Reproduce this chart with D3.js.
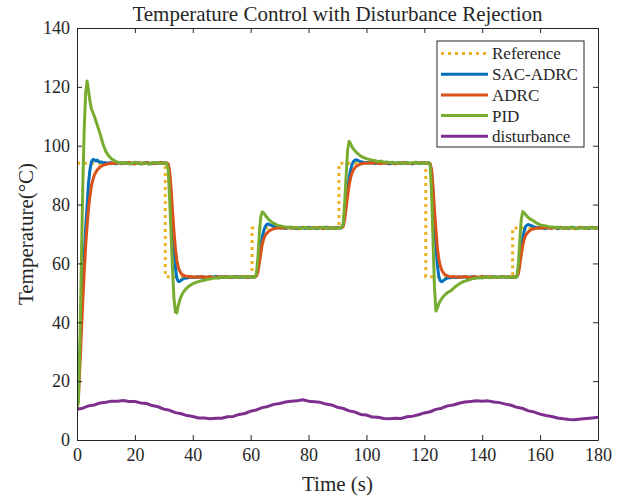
<!DOCTYPE html>
<html>
<head>
<meta charset="utf-8">
<script src="https://d3js.org/d3.v7.min.js"></script>
<style>
  body { margin: 0; background: #fff; }
  svg text { font-family: "Liberation Serif", "Times New Roman", serif; fill: #262626; }
</style>
</head>
<body>
<div id="chart"></div>
<script>
"use strict";

// ---- data ----
// sample times (s), denser around the set-point changes
var time = [
  0,0.5,1,1.5,2,2.5,3,3.5,4,4.5,5,5.5,6,6.5,7,7.5,8,8.5,9,9.5,10,10.5,11,11.5,12,12.5,13,13.5,14,14.5,15,15.5,16,
  17,18,19,20,21,22,23,24,25,26,27,28,29,30,
  30.5,31,31.5,32,32.5,33,33.5,34,34.5,35,35.5,36,36.5,37,37.5,38,38.5,39,39.5,40,
  41,42,43,44,45,46,47,48,49,50,51,52,53,54,55,56,57,58,59,60,
  60.5,61,61.5,62,62.5,63,63.5,64,64.5,65,65.5,66,66.5,67,67.5,68,68.5,69,69.5,70,
  71,72,73,74,75,76,77,78,79,80,81,82,83,84,85,86,87,88,89,90,
  90.5,91,91.5,92,92.5,93,93.5,94,94.5,95,95.5,96,96.5,97,97.5,98,98.5,99,99.5,100,
  101,102,103,104,105,106,107,108,109,110,111,112,113,114,115,116,117,118,119,120,
  120.5,121,121.5,122,122.5,123,123.5,124,124.5,125,125.5,126,126.5,127,127.5,128,128.5,129,129.5,130,
  131,132,133,134,135,136,137,138,139,140,141,142,143,144,145,146,147,148,149,150,
  150.5,151,151.5,152,152.5,153,153.5,154,154.5,155,155.5,156,156.5,157,157.5,158,158.5,159,159.5,160,
  161,162,163,164,165,166,167,168,169,170,171,172,173,174,175,176,177,178,179,180
];

var sacAdrc = [
  10.5,18,30,42,53,63,72,80,87.5,92,94.5,95.3,95.2,94.8,95.1,94.6,94.4,94.5,94.1,94.3,93.9,94.2,94.0,94.3,93.9,94.1,94.2,93.8,94.1,94.3,94.0,93.9,94.2,
  94.0,94.3,93.9,94.1,94.2,93.8,94.1,94.3,94.0,93.9,94.2,94.0,94.1,94.2,
  94.1,94.0,93.6,90,83,74,65,58.5,55,53.9,53.9,54.3,54.6,54.9,55.1,55.0,55.3,55.2,55.4,55.3,
  55.2,55.5,55.3,55.4,55.1,55.5,55.3,55.6,55.2,55.4,55.3,55.5,55.2,55.4,55.6,55.3,55.4,55.2,55.5,55.3,
  55.4,55.3,55.5,56,59,62.5,66,69,71,72.5,73.2,73.4,73.2,73.0,72.8,72.5,72.4,72.2,72.3,72.1,
  72.2,71.9,72.1,72.3,72.0,71.8,72.2,72.1,71.9,72.3,72.0,72.1,71.8,72.2,72.0,72.3,71.9,72.1,72.0,72.2,
  72.1,72.0,72.2,73.5,77.5,81.5,85.5,89,91.7,93.5,94.6,95.1,95.2,95.0,94.8,94.6,94.5,94.4,94.2,94.3,
  94.1,94.3,93.9,94.2,94.0,94.3,94.1,93.8,94.2,94.0,94.3,93.9,94.1,94.2,94.0,93.8,94.3,94.1,94.0,94.2,
  94.1,94.0,94.2,93.8,91,84,75,66,59.5,55.5,54.1,53.8,54.1,54.5,54.8,55.0,55.2,55.1,55.4,55.3,
  55.2,55.4,55.3,55.5,55.2,55.4,55.6,55.3,55.1,55.4,55.5,55.2,55.3,55.6,55.4,55.2,55.5,55.3,55.4,55.2,
  55.3,55.4,55.2,55.6,57.5,61,65,68.5,71,72.5,73.1,73.2,73.0,72.8,72.6,72.4,72.3,72.1,72.2,72.0,
  72.1,71.9,72.2,72.0,72.3,71.8,72.1,72.2,72.0,71.9,72.3,72.1,71.8,72.2,72.0,72.1,71.9,72.3,72.0,72.1
];

var adrc = [
  10.5,15,25,36,47,57,66,73,79,83,86.5,88.5,90,91,91.8,92.3,92.8,93.1,93.4,93.5,93.7,93.8,93.9,94.0,94.1,93.9,94.2,94.0,94.3,94.1,93.9,94.2,94.0,
  94.1,94.3,94.0,93.8,94.2,94.1,93.9,94.3,94.0,94.2,93.9,94.1,94.3,94.0,
  94.0,94.2,93.9,91.5,85.5,78,71,65,61,58.6,57.4,56.6,56.1,55.9,55.7,55.5,55.6,55.3,55.5,55.4,
  55.4,55.3,55.6,55.2,55.4,55.5,55.3,55.2,55.5,55.4,55.6,55.3,55.2,55.5,55.4,55.3,55.6,55.4,55.2,55.5,
  55.3,55.5,55.4,55.7,57,60,63.5,66.5,68.3,69.5,70.2,70.7,71.1,71.4,71.6,71.8,71.9,72.0,72.1,72.0,
  72.1,72.0,72.3,71.9,72.2,72.0,71.8,72.3,72.1,72.0,71.9,72.2,72.1,72.3,71.8,72.0,72.2,71.9,72.1,72.0,
  72.0,72.2,72.1,72.6,75,79,83,86.5,89,90.7,91.8,92.5,93,93.3,93.6,93.8,93.9,94.0,94.1,94.0,
  94.2,94.0,94.3,94.1,93.9,94.2,94.0,94.3,94.1,93.8,94.2,94.1,94.3,94.0,93.9,94.2,94.1,94.0,94.3,94.1,
  94.2,94.0,94.1,93.9,92,86,78.5,71.5,65.5,61.5,59.2,57.8,56.9,56.3,56.0,55.8,55.6,55.5,55.4,55.5,
  55.5,55.3,55.4,55.6,55.3,55.2,55.5,55.4,55.3,55.6,55.2,55.4,55.5,55.3,55.2,55.4,55.6,55.3,55.5,55.4,
  55.4,55.3,55.5,55.5,56.5,59.5,63,66,68.2,69.5,70.3,70.8,71.2,71.5,71.7,71.8,72.0,72.1,71.9,72.1,
  72.0,72.2,72.1,71.9,72.2,72.0,72.3,71.9,72.1,72.0,72.2,71.8,72.1,72.3,72.0,71.9,72.2,72.1,72.0,72.2
];

var pid = [
  10.5,13,32,60,86,106,118,122,118.5,115,112.5,111.2,110,108.5,107,105.5,104,102.2,100.5,99.2,98,97.2,96.5,96,95.5,95.2,94.9,94.6,94.5,94.1,94.3,93.9,94.1,
  94.3,93.8,94.0,94.4,94.1,93.8,94.2,94.0,93.7,94.3,94.1,94.2,93.9,94.2,
  94.1,94.0,92,82,70,58,48,43.5,43.2,45.8,47.5,48.8,49.8,50.6,51.2,51.7,52.1,52.5,52.8,53.1,
  53.5,53.8,54.1,54.3,54.6,54.7,55.0,55.1,55.0,55.4,55.2,55.5,55.3,55.6,55.2,55.4,55.5,55.2,55.6,55.3,
  55.4,55.2,55.5,56.5,62,70,76,77.5,77.2,76.4,75.8,75.2,74.7,74.3,73.9,73.6,73.4,73.1,72.9,72.8,
  72.6,72.4,72.2,72.3,72.0,72.2,71.9,72.1,72.3,71.8,72.0,72.2,71.9,72.1,72.3,71.9,72.0,72.2,71.8,72.1,
  72.0,72.1,72.3,73.5,81,90,98.5,101.5,100.8,99.6,98.9,98.3,97.8,97.3,96.9,96.5,96.2,96.0,95.8,95.6,
  95.3,95.1,94.9,94.6,94.8,94.4,94.5,94.2,94.4,94.0,94.3,94.1,93.9,94.3,94.0,94.2,94.4,93.9,94.1,94.2,
  94.0,94.2,94.1,93.5,84,68,52,43.8,44.8,46.3,47.3,48.0,48.7,49.2,49.7,50.1,50.4,50.6,51.0,51.5,
  52.3,53.0,53.6,54.0,54.3,54.6,54.9,55.0,55.2,55.0,55.4,55.3,55.1,55.5,55.3,55.2,55.6,55.3,55.4,55.2,
  55.3,55.5,55.2,55.6,60,68,75,77.6,77.2,76.6,76.0,75.5,75.1,74.9,74.6,74.2,73.9,73.6,73.4,73.1,
  72.9,72.7,72.5,72.4,72.2,72.3,72.0,72.2,71.9,72.1,72.3,72.0,71.8,72.2,72.1,71.9,72.3,72.0,72.1,71.9
];

// set-point (step after each time)
var refTime = [0, 30.5, 60.5, 90.5, 120.5, 150.5, 180];
var refLevel = [94, 55.5, 72, 94, 55.5, 72, 72];

var distTime = [
  0,2,4,6,8,10,12,14,16,18,20,22,24,26,28,30,32,34,36,38,40,42,44,46,48,50,52,54,56,58,
  60,62,64,66,68,70,72,74,76,78,80,82,84,86,88,90,92,94,96,98,100,102,104,106,108,110,112,114,116,118,
  120,122,124,126,128,130,132,134,136,138,140,142,144,146,148,150,152,154,156,158,160,162,164,166,168,170,172,174,176,178,180
];
var disturbance = [
  10.4,10.8,11.6,11.9,12.6,12.8,13.2,13.2,13.4,13.1,13.1,12.6,12.4,11.7,11.3,10.5,10.1,9.3,8.9,8.3,8.0,7.5,7.5,7.2,7.4,7.4,7.9,8.0,8.7,9.0,
  9.8,10.2,11.0,11.4,12.1,12.4,12.9,13.2,13.3,13.7,13.2,13.0,12.8,12.2,11.9,11.1,10.7,9.9,9.5,8.7,8.5,7.8,7.7,7.3,7.2,7.4,7.3,7.9,8.1,8.6,
  9.2,9.6,10.4,10.8,11.6,11.9,12.5,12.9,13.1,13.3,13.2,13.3,12.9,12.7,12.2,11.8,11.1,10.7,9.9,9.5,8.8,8.3,8.0,7.5,7.2,7.0,6.9,7.1,7.3,7.5,7.7
];

var xTicks = [0, 20, 40, 60, 80, 100, 120, 140, 160, 180];
var yTicks = [0, 20, 40, 60, 80, 100, 120, 140];

var legendNames = ["Reference", "SAC-ADRC", "ADRC", "PID", "disturbance"];
var legendColors = ["#EDB120", "#0072BD", "#D95319", "#77AC30", "#7E2F8E"];

// ---- layout ----
var width = 626, height = 496;
var plot = { left: 77, right: 598, top: 28, bottom: 440 };
var axisColor = "#262626";
var lineW = 3;

var svg = d3.select("#chart").append("svg")
  .attr("width", width)
  .attr("height", height);

var x = d3.scaleLinear().domain([0, 180]).range([plot.left, plot.right]);
var y = d3.scaleLinear().domain([0, 140]).range([plot.bottom, plot.top]);

svg.append("clipPath").attr("id", "plotClip")
  .append("rect")
  .attr("x", plot.left).attr("y", plot.top)
  .attr("width", plot.right - plot.left)
  .attr("height", plot.bottom - plot.top);

// zip helper: two arrays -> list of points
function zip(ts, vs) {
  return ts.map(function(t, i) { return [t, vs[i]]; });
}

var line = d3.line()
  .x(function(d) { return x(d[0]); })
  .y(function(d) { return y(d[1]); });

var stepLine = d3.line()
  .curve(d3.curveStepAfter)
  .x(function(d) { return x(d[0]); })
  .y(function(d) { return y(d[1]); });

var g = svg.append("g").attr("clip-path", "url(#plotClip)");

// reference, dotted
g.append("path")
  .attr("d", stepLine(zip(refTime, refLevel)))
  .attr("fill", "none")
  .attr("stroke", legendColors[0])
  .attr("stroke-width", 3)
  .attr("stroke-dasharray", "3,4");

// controller responses + disturbance
[[time, sacAdrc, 1], [time, adrc, 2], [time, pid, 3], [distTime, disturbance, 4]]
  .forEach(function(s) {
    g.append("path")
      .attr("d", line(zip(s[0], s[1])))
      .attr("fill", "none")
      .attr("stroke", legendColors[s[2]])
      .attr("stroke-width", lineW)
      .attr("stroke-linejoin", "round");
  });

// ---- axes (ticks inside, box on) ----
function styleAxis(sel) {
  sel.selectAll("path, line").attr("stroke", axisColor);
  sel.selectAll("text")
    .attr("fill", axisColor)
    .style("font-family", "'Liberation Serif', 'Times New Roman', serif")
    .style("font-size", "18px");
}

svg.append("g")
  .attr("transform", "translate(0," + plot.bottom + ")")
  .call(d3.axisBottom(x).tickValues(xTicks).tickSizeInner(-5).tickSizeOuter(0).tickPadding(8))
  .call(styleAxis);

svg.append("g")
  .attr("transform", "translate(0," + plot.top + ")")
  .call(d3.axisTop(x).tickValues(xTicks).tickSizeInner(-5).tickSizeOuter(0).tickFormat(""))
  .call(styleAxis);

svg.append("g")
  .attr("transform", "translate(" + plot.left + ",0)")
  .call(d3.axisLeft(y).tickValues(yTicks).tickSizeInner(-5).tickSizeOuter(0).tickPadding(7))
  .call(styleAxis);

svg.append("g")
  .attr("transform", "translate(" + plot.right + ",0)")
  .call(d3.axisRight(y).tickValues(yTicks).tickSizeInner(-5).tickSizeOuter(0).tickFormat(""))
  .call(styleAxis);

// ---- labels ----
svg.append("text")
  .attr("x", (plot.left + plot.right) / 2)
  .attr("y", 21)
  .attr("text-anchor", "middle")
  .style("font-size", "21px")
  .text("Temperature Control with Disturbance Rejection");

svg.append("text")
  .attr("x", (plot.left + plot.right) / 2)
  .attr("y", 491)
  .attr("text-anchor", "middle")
  .style("font-size", "21px")
  .text("Time (s)");

svg.append("text")
  .attr("transform", "translate(33," + ((plot.top + plot.bottom) / 2) + ") rotate(-90)")
  .attr("text-anchor", "middle")
  .style("font-size", "21px")
  .text("Temperature(°C)");

// ---- legend ----
var legend = { x: 437, y: 41, w: 147, h: 106, rowH: 20.7, first: 12.5 };
var lg = svg.append("g");
lg.append("rect")
  .attr("x", legend.x).attr("y", legend.y)
  .attr("width", legend.w).attr("height", legend.h)
  .attr("fill", "#fff")
  .attr("stroke", axisColor)
  .attr("stroke-width", 1);

legendNames.forEach(function(name, i) {
  var cy = legend.y + legend.first + i * legend.rowH;
  var ln = lg.append("line")
    .attr("x1", legend.x + 4).attr("x2", legend.x + 51)
    .attr("y1", cy).attr("y2", cy)
    .attr("stroke", legendColors[i])
    .attr("stroke-width", i === 0 ? 3 : lineW);
  if(i === 0) {
    ln.attr("stroke-dasharray", "3,4");
  }
  lg.append("text")
    .attr("x", legend.x + 55)
    .attr("y", cy)
    .attr("dy", "0.35em")
    .style("font-size", "17px")
    .text(name);
});
</script>
</body>
</html>
